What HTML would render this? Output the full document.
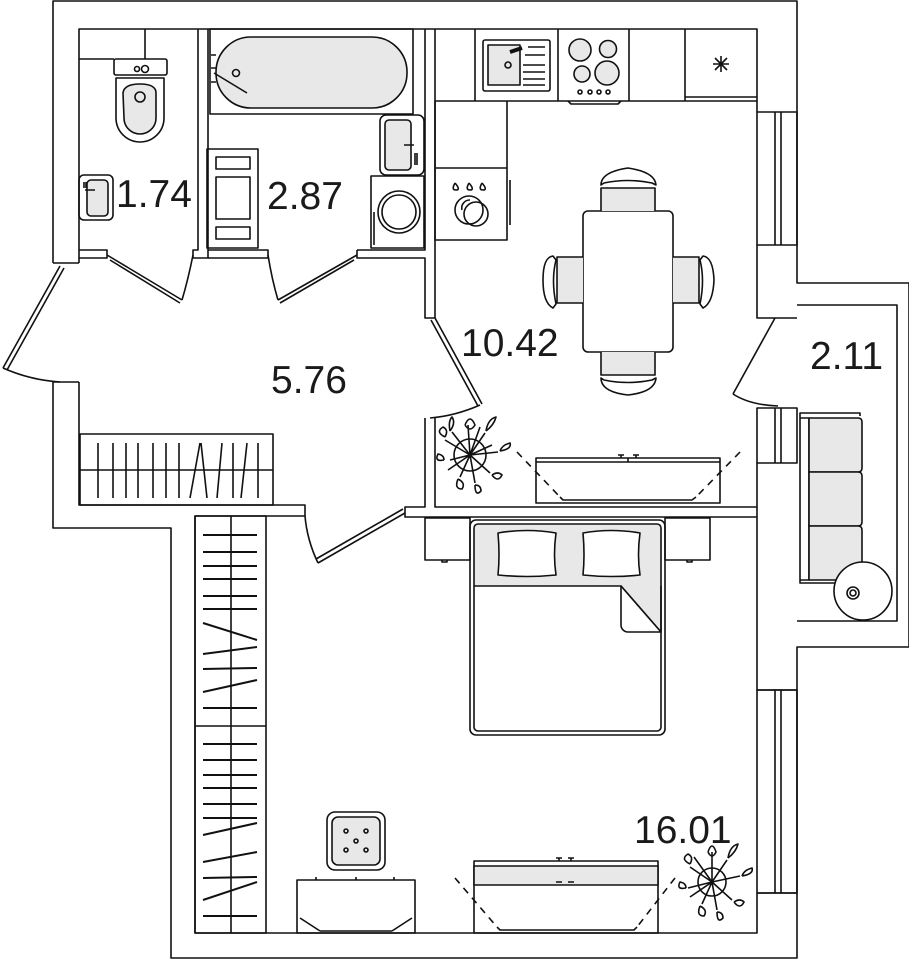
<!DOCTYPE html>
<html><head><meta charset="utf-8"><style>
html,body{margin:0;padding:0;background:#fff;}
svg{display:block;}
text{font-family:"Liberation Sans",sans-serif;font-size:39px;fill:#1a1a1a;}
</style></head><body>
<svg width="909" height="960" viewBox="0 0 909 960" xmlns="http://www.w3.org/2000/svg" fill="none" stroke="#111" stroke-width="1.6" stroke-linejoin="round">
<!-- outer walls -->
<path d="M53,263 V1 H797 V283 H909 V647 H797 V958 H171 V528 H53 V382"/>
<path d="M53,263 H79 M53,382 H79"/>
<!-- inner wall lines -->
<path d="M79,263 V29 H757 V112"/>
<path d="M79,382 V505 H305 V516 H195 V933 H757 V893"/>
<!-- right windows & piers -->
<rect x="757" y="112" width="40" height="133"/><path d="M775,112 V245 M781,112 V245"/>
<path d="M757,245 V318 H797"/>
<rect x="757" y="408" width="40" height="55"/><path d="M775,408 V463 M781,408 V463"/>
<path d="M757,463 V690 H797"/>
<rect x="757" y="690" width="40" height="203"/><path d="M775,690 V893 M781,690 V893"/>
<path d="M757,893 H797"/>
<!-- balcony -->
<path d="M797,305 H897 V621 H797"/>
<!-- toilet/bath partition -->
<path d="M198,29 V250 H193 V258 H208 V29"/>
<path d="M79,250 H107 V258 H79"/>
<path d="M208,250 H268 V258 H208"/>
<path d="M357,250 H425 V29"/>
<path d="M435,29 V318 H425 V258 H357 V250"/>
<!-- kitchen lower wall -->
<path d="M425,418 V507 H405 V517 H757 M435,418 V507 H757"/>
<!-- doors -->
<path d="M107,255 L182,300 M110,260 L180,303"/><path d="M182,300 Q188,280 193,255"/>
<path d="M357,255 L278,300 M354,260 L280,303"/><path d="M278,300 Q272,280 268,255"/>
<path d="M60,266 L3,368 M64,268 L7,370"/><path d="M3,368 Q30,380 60,382"/>
<path d="M431,320 L478,406 M435,318 L482,404"/><path d="M480,405 Q455,416 430,418"/>
<path d="M775,318 L733,394"/><path d="M733,394 Q750,405 778,406"/>
<path d="M405,513 L318,563 M403,509 L316,559"/><path d="M318,563 Q307,540 305,516"/>
<!-- corridor closet -->
<rect x="80" y="434" width="193" height="71"/><path d="M80,470 H273"/>
<path d="M98,443 V498 M113,443 V498 M126,443 V498 M138,443 V498 M153,443 V498 M166,443 V498 M179,443 V498 M190,498 L200,443 M201,443 L207,498 M217,498 L222,443 M233,443 V498 M241,498 L247,443 M258,443 V498"/>
<!-- bedroom wardrobe -->
<rect x="195" y="516" width="71" height="417"/><path d="M231,516 V933 M195,726 H266"/>
<g stroke-width="2">
<path d="M203,535 H257 M203,552 H257 M203,566 H257 M203,579 H257 M203,596 H257 M203,609 H257 M203,623 L257,640 M203,654 L257,647 M203,669 L257,668 M203,692 L257,680 M203,708 H257 M203,744 H257 M203,760 H257 M203,775 H257 M203,788 H257 M203,804 H257 M203,818 H257 M203,835 L257,823 M203,862 L257,852 M203,878 L257,877 M203,900 L257,882 M203,916 H257"/>
</g>
<!-- toilet room -->
<path d="M145,29 V59 M79,59 H114"/>
<rect x="114" y="59" width="53" height="16" rx="2"/>
<circle cx="137" cy="69" r="2.5"/><circle cx="145" cy="69" r="3.5"/>
<path d="M116,78 H164 V118 A24,24 0 0 1 116,118 Z"/>
<path d="M123,93 Q124,84 140,84 Q156,84 156,93 V118 A16,16 0 0 1 124,118 Z" fill="#e8e8e8"/>
<circle cx="140" cy="97" r="5"/>
<rect x="79" y="175" width="34" height="45" rx="5"/>
<rect x="87" y="180" width="21" height="36" rx="4" fill="#e8e8e8"/>
<path d="M85,190 H95 M84,182 V188 M86,182 V188"/>
<!-- bath room -->
<rect x="210" y="29" width="203" height="85"/>
<rect x="216" y="37" width="191" height="71" rx="35" fill="#e8e8e8"/>
<circle cx="236" cy="73" r="3.5"/><path d="M214,73 L247,93"/>
<path d="M211,55 H216 M211,68 H216 M211,82 H216"/>
<rect x="380" y="115" width="44" height="60" rx="6"/>
<rect x="385" y="120" width="26" height="50" rx="4" fill="#e8e8e8"/>
<path d="M404,145 H414 M415,153 V165 M417,153 V165"/>
<rect x="371" y="176" width="53" height="72"/>
<circle cx="399" cy="212" r="21"/><circle cx="399" cy="212" r="17"/>
<path d="M374,212 V245"/>
<rect x="207" y="149" width="51" height="99"/>
<rect x="216" y="157" width="34" height="12"/><rect x="216" y="177" width="34" height="42"/><rect x="216" y="227" width="34" height="12"/>
<!-- kitchen counters -->
<path d="M435,101 H757 M475,29 V101 M558,29 V101 M629,29 V101 M685,29 V101 M685,97 H757"/>
<rect x="483" y="40" width="67" height="51" rx="2"/>
<rect x="488" y="45" width="32" height="40" fill="#e8e8e8"/>
<circle cx="508" cy="65" r="3"/><path d="M510,52 L522,48" stroke-width="4"/>
<path d="M528,47 H545 M525,55 H545 M523,65 H545 M523,72 H545 M523,79 H545 M523,85 H545"/>
<g fill="#e8e8e8"><circle cx="580" cy="50" r="11"/><circle cx="608" cy="49" r="8.5"/><circle cx="582" cy="74" r="8"/><circle cx="607" cy="73" r="12"/></g>
<circle cx="580" cy="92" r="2"/><circle cx="590" cy="92" r="2"/><circle cx="599" cy="92" r="2"/><circle cx="608" cy="92" r="2"/>
<path d="M568,101 L571,104 H618 L621,101"/>
<path d="M721,56 V72 M713,64 H729 M715,58 L727,70 M727,58 L715,70"/>
<path d="M435,101 V240 H507 V101 M435,168 H507 M510,180 V225"/>
<path d="M455,183 q-4,7 1,7 q5,0 -1,-7 M469,183 q-4,7 1,7 q5,0 -1,-7 M482,183 q-4,7 1,7 q5,0 -1,-7"/>
<circle cx="469" cy="210" r="14"/><circle cx="476" cy="214" r="12"/><path d="M462,210 A8,8 0 0 1 470,200"/>
<!-- dining table -->
<rect x="583" y="211" width="90" height="141" rx="5"/>
<path d="M601,211 V188 H655 V211" fill="#e8e8e8"/>
<path d="M601,185 Q601,172 628,168 Q655,172 656,185 L652,183 Q628,178 604,183 Z"/>
<path d="M601,352 V375 H655 V352" fill="#e8e8e8"/>
<path d="M601,378 Q601,392 628,395 Q655,392 656,378 L652,380 Q628,385 604,380 Z"/>
<path d="M583,257 H557 V303 H583" fill="#e8e8e8"/>
<path d="M553,256 Q543,257 543,280 Q543,303 553,308 L556,304 Q551,280 556,260 Z"/>
<path d="M673,257 H699 V303 H673" fill="#e8e8e8"/>
<path d="M703,256 Q713,257 714,280 Q713,303 703,308 L700,304 Q705,280 700,260 Z"/>
<!-- kitchen tv stand -->
<rect x="536" y="458" width="184" height="45"/><path d="M536,462 H720 M628,458 V462"/>
<path d="M618,455 H624 M633,455 H639 M621,455 V458 M636,455 V458"/>
<path d="M560,497 L563,500 H692 L696,497"/>
<path d="M517,452 L560,497 M740,452 L696,497" stroke-dasharray="7,6"/>
<!-- plant kitchen -->
<g transform="translate(470,455)">
<circle r="16"/>
<path d="M0,0 L-25,-15 M0,0 L-20,5 M0,0 L-10,22 M0,0 L5,28 M0,0 L20,18 M0,0 L28,-3 M0,0 L15,-22 M0,0 L-2,-30 M0,0 L-18,-23 M0,0 L22,-10 M0,0 L-22,15 M0,0 L10,-28"/>
<path d="M-5,-30 q5,-12 10,0 q-5,8 -10,0 M-25,-18 q-10,-5 -2,-10 q6,3 2,10 M-26,5 q-10,2 -6,-6 q6,1 6,6 M-12,24 q-4,10 4,10 q4,-6 -4,-10 M5,30 q0,12 6,6 q0,-6 -6,-6 M22,20 q6,8 10,0 q-4,-4 -10,0 M30,-4 q12,-2 10,-8 q-8,2 -10,8 M16,-24 q8,-6 10,-14 q-8,2 -10,14 M-20,-24 q-2,-10 2,-14 q4,6 -2,14"/>
</g>
<!-- bedroom: bed -->
<rect x="425" y="518" width="45" height="42"/><rect x="665" y="518" width="45" height="42"/>
<path d="M442,560 v2 h5 v-2 M687,560 v2 h5 v-2"/>
<rect x="470" y="520" width="195" height="215" rx="6"/>
<path d="M474,524 H661 V586 H474 Z" fill="#e8e8e8" stroke="none"/>
<path d="M474,586 H621 L661,632 V586" fill="#e8e8e8"/>
<rect x="474" y="524" width="187" height="207" rx="4"/>
<path d="M621,586 L661,632 H628 A7,7 0 0 1 621,625 Z" fill="#fff"/>
<path d="M498,533 Q527,528 556,533 Q553,555 556,575 Q527,578 498,575 Q500,555 498,533 Z" fill="#fff"/>
<path d="M583,533 Q611,528 640,533 Q637,555 640,575 Q611,578 583,575 Q585,555 583,533 Z" fill="#fff"/>
<!-- pouf -->
<rect x="327" y="812" width="58" height="58" rx="8"/>
<rect x="332" y="817" width="48" height="48" rx="6" fill="#e8e8e8"/>
<circle cx="346" cy="831" r="2"/><circle cx="366" cy="831" r="2"/><circle cx="356" cy="841" r="2"/><circle cx="346" cy="850" r="2"/><circle cx="366" cy="850" r="2"/>
<!-- dresser -->
<rect x="297" y="880" width="118" height="53"/>
<path d="M316,877 v3 M356,877 v3 M394,877 v3 M300,918 L320,931 M412,918 L392,931 M320,931 H392"/>
<!-- bedroom tv stand -->
<rect x="474" y="861" width="184" height="72"/>
<path d="M474,866 H658 V885 H474 Z" fill="#e8e8e8"/>
<path d="M556,858 h6 M568,858 h6 M559,858 v3 M571,858 v3 M556,882 h6 M568,882 h6"/>
<path d="M497,927 L500,930 H634 L637,927"/>
<path d="M455,878 L497,927 M675,878 L637,927" stroke-dasharray="7,6"/>
<!-- plant bedroom -->
<g transform="translate(712,882)">
<circle r="14"/>
<path d="M0,0 L-22,-15 M0,0 L-24,6 M0,0 L-10,22 M0,0 L5,28 M0,0 L20,18 M0,0 L28,-6 M0,0 L15,-22 M0,0 L0,-30 M0,0 L-18,-25 M0,0 L-22,15"/>
<path d="M-4,-30 q4,-12 8,0 q-4,8 -8,0 M-22,-18 q-10,-5 -2,-10 q6,3 2,10 M-26,6 q-10,2 -6,-6 q6,1 6,6 M-12,24 q-4,10 4,10 q4,-6 -4,-10 M5,30 q0,12 6,6 q0,-6 -6,-6 M22,20 q6,8 10,0 q-4,-4 -10,0 M30,-6 q12,-2 10,-8 q-8,2 -10,8 M16,-24 q8,-6 10,-14 q-8,2 -10,14"/>
</g>
<!-- balcony sofa -->
<path d="M860,416 V413 H800 V583 H840"/>
<path d="M800,418 H809 V580 H800"/>
<path d="M809,418 H858 Q862,418 862,422 V468 Q862,472 858,472 H809 Z" fill="#e8e8e8"/>
<path d="M809,472 H858 Q862,472 862,476 V522 Q862,526 858,526 H809 Z" fill="#e8e8e8"/>
<path d="M809,526 H858 Q862,526 862,530 V576 Q862,580 858,580 H809 Z" fill="#e8e8e8"/>
<circle cx="863" cy="591" r="29" fill="#fff"/>
<circle cx="853" cy="593" r="6"/><circle cx="853" cy="593" r="3"/>
<!-- labels -->
<g stroke="none">
<text x="116" y="207">1.74</text>
<text x="267" y="209">2.87</text>
<text x="271" y="393">5.76</text>
<text x="461" y="356">10.42</text>
<text x="810" y="369">2.11</text>
<text x="634" y="843">16.01</text>
</g>
</svg>
</body></html>
